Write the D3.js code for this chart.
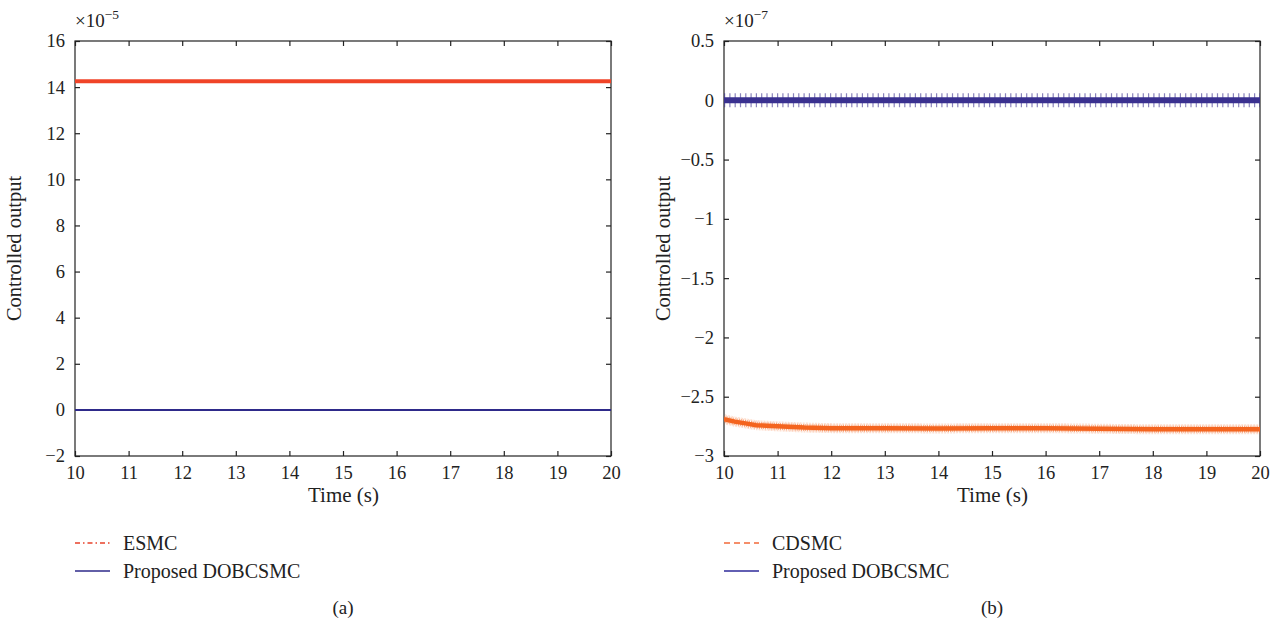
<!DOCTYPE html>
<html>
<head>
<meta charset="utf-8">
<script src="https://cdn.jsdelivr.net/npm/d3@7"></script>
<style>
  body { margin: 0; background: #fff; }
  svg text { font-family: "Liberation Serif", "DejaVu Serif", serif; fill: #222; }
</style>
</head>
<body>
<div id="chart"></div>
<script>
// time axis shared by both panels
const timeTicks = [10, 11, 12, 13, 14, 15, 16, 17, 18, 19, 20];

// panel (a), values in units of 1e-5
const aTicks = [-2, 0, 2, 4, 6, 8, 10, 12, 14, 16];
const aTime = [10, 20];
const esmc = [14.25, 14.25];
const aProposed = [0, 0];

// panel (b), values in units of 1e-7
const bTicks = [-3, -2.5, -2, -1.5, -1, -0.5, 0, 0.5];
const bTime = [10, 10.2, 10.4, 10.6, 10.8, 11, 11.5, 12, 12.5, 13, 14, 15, 16, 17, 18, 19, 20];
const cdsmc = [-2.69, -2.71, -2.725, -2.74, -2.745, -2.75, -2.76, -2.765, -2.765, -2.765, -2.768, -2.765, -2.765, -2.77, -2.775, -2.775, -2.775];
const bProposed = bTime.map(() => 0);

const FONT = '"Liberation Serif", "DejaVu Serif", serif';

const svg = d3.select("#chart").append("svg")
    .attr("width", 1286)
    .attr("height", 626)
    .attr("font-family", FONT);

function panel(opt) {
    const g = svg.append("g");
    const x = d3.scaleLinear().domain([10, 20]).range([opt.left, opt.right]);
    const y = d3.scaleLinear().domain(opt.yDomain).range([456, 41]);

    // frame
    g.append("rect")
        .attr("x", opt.left).attr("y", 41)
        .attr("width", opt.right - opt.left).attr("height", 415)
        .attr("fill", "none").attr("stroke", "#222").attr("stroke-width", 1.2);

    // axes with inward ticks on all sides
    const fmt = d => d3.format("")(d).replace("-", "\u2212");
    g.append("g").attr("transform", "translate(0,456)")
        .call(d3.axisBottom(x).tickValues(timeTicks).tickSize(-5).tickPadding(10).tickFormat(d3.format("d")))
        .call(s => s.select(".domain").remove());
    g.append("g").attr("transform", "translate(0,41)")
        .call(d3.axisTop(x).tickValues(timeTicks).tickSize(-5).tickFormat(""))
        .call(s => s.select(".domain").remove());
    g.append("g").attr("transform", `translate(${opt.left},0)`)
        .call(d3.axisLeft(y).tickValues(opt.yTicks).tickSize(-5).tickPadding(10).tickFormat(fmt))
        .call(s => s.select(".domain").remove());
    g.append("g").attr("transform", `translate(${opt.right},0)`)
        .call(d3.axisRight(y).tickValues(opt.yTicks).tickSize(-5).tickFormat(""))
        .call(s => s.select(".domain").remove());
    g.selectAll(".tick").each(function() { d3.select(this.parentNode).attr("font-family", FONT); });
    g.selectAll(".tick line").attr("stroke", "#222").attr("stroke-width", 1.2);
    g.selectAll(".tick text").style("font-size", "18.5px").style("font-family", FONT).attr("fill", "#222");

    const clip = "clip" + opt.left;
    g.append("clipPath").attr("id", clip).append("rect")
        .attr("x", opt.left).attr("y", 41).attr("width", opt.right - opt.left).attr("height", 415);
    const plot = g.append("g").attr("clip-path", `url(#${clip})`);

    opt.series.forEach(s => {
        const line = d3.line().x((d, i) => x(s.t[i])).y(d => y(d));
        (s.fuzz || []).forEach(f => {
            plot.append("path").datum(s.v).attr("d", line)
                .attr("fill", "none").attr("stroke", s.color)
                .attr("stroke-width", f.width).attr("stroke-dasharray", f.dash)
                .attr("opacity", f.opacity);
        });
        plot.append("path").datum(s.v).attr("d", line)
            .attr("fill", "none").attr("stroke", s.color).attr("stroke-width", s.width);
    });

    const cx = (opt.left + opt.right) / 2;
    g.append("text").attr("x", cx + 0.5).attr("y", 502).attr("text-anchor", "middle")
        .style("font-size", "21px").text("Time (s)");
    g.append("text").attr("transform", `translate(${opt.left - 54},248.5) rotate(-90)`)
        .attr("text-anchor", "middle").style("font-size", "20.5px").text("Controlled output");
    const ex = g.append("text").attr("x", opt.left).attr("y", 27).style("font-size", "19px");
    ex.append("tspan").text("\u00d710");
    ex.append("tspan").attr("dy", -8).style("font-size", "13.5px").text(opt.exp);

    // legend
    opt.series.forEach((s, i) => {
        const ly = 543 + i * 28;
        g.append("line").attr("x1", opt.left).attr("x2", opt.left + 35)
            .attr("y1", ly).attr("y2", ly)
            .attr("stroke", s.legendColor || s.color).attr("stroke-width", 1.4)
            .attr("stroke-dasharray", s.legendDash || null);
        g.append("text").attr("x", opt.left + 48).attr("y", ly + 7)
            .style("font-size", "20px").text(s.name);
    });
    g.append("text").attr("x", cx).attr("y", 614).attr("text-anchor", "middle")
        .style("font-size", "19px").text(opt.tag);
}

panel({
    left: 75, right: 611, yDomain: [-2, 16], yTicks: aTicks, exp: "\u22125", tag: "(a)",
    series: [
        {name: "ESMC", t: aTime, v: esmc, color: "#f04428", width: 4, legendColor: "#e8412a", legendDash: "5,3,1.5,3"},
        {name: "Proposed DOBCSMC", t: aTime, v: aProposed, color: "#2e2a8a", width: 2}
    ]
});

panel({
    left: 724, right: 1260, yDomain: [-3, 0.5], yTicks: bTicks, exp: "\u22127", tag: "(b)",
    series: [
        {name: "CDSMC", t: bTime, v: cdsmc, color: "#f4641e", width: 4.5,
         fuzz: [{width: 10, dash: "0.6,0.9", opacity: 0.35}, {width: 7, dash: "0.8,1.3", opacity: 0.6}],
         legendColor: "#f26a3a", legendDash: "6,4"},
        {name: "Proposed DOBCSMC", t: bTime, v: bProposed, color: "#3a3190", width: 6,
         fuzz: [{width: 14, dash: "1.2,4.1", opacity: 0.6}], legendColor: "#2e2a9a"}
    ]
});
</script>
</body>
</html>
